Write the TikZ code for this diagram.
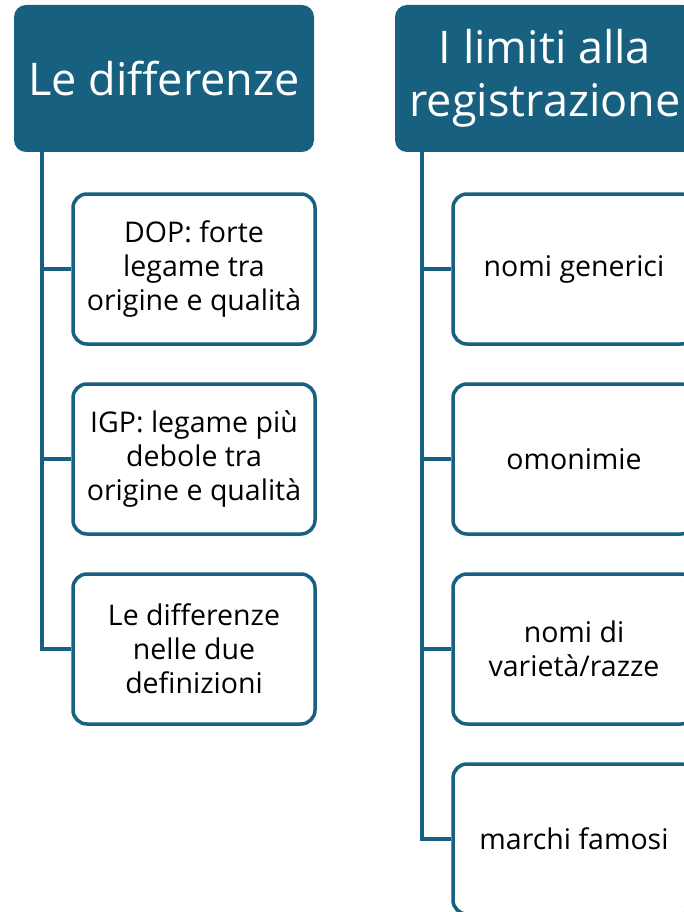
\documentclass[tikz,border=0pt]{standalone}
\usepackage{fontspec}
\setmainfont{Open Sans}
\definecolor{teal}{RGB}{24,96,128}
\tikzset{
  header/.style={draw=none, fill=teal, rounded corners=12pt, minimum width=300pt, minimum height=147pt,
    text=white, align=center, font=\fontsize{45}{53}\selectfont, inner sep=0pt},
  leaf/.style={draw=teal, line width=3.5pt, fill=white, rounded corners=14pt, minimum width=242pt,
    minimum height=150pt, align=center, font=\fontsize{28.5}{34}\selectfont, inner sep=0pt},
  link/.style={draw=teal, line width=3.5pt}
}
\begin{document}
\begin{tikzpicture}[x=1pt,y=-1pt]
\useasboundingbox (0,0) rectangle (684,912);
\clip (0,0) rectangle (684,912);
% left column
\node[header] (h1) at (164,78.5) {Le differenze};
\node[leaf] (a1) at (194,269) {DOP: forte\\legame tra\\origine e qualità};
\node[leaf] (a2) at (194,459) {IGP: legame più\\debole tra\\origine e qualità};
\node[leaf] (a3) at (194,649) {Le differenze\\nelle due\\definizioni};
\coordinate (t1) at (42,152);
\draw[link] (t1) |- (a1.west);
\draw[link] (t1) |- (a2.west);
\draw[link] (t1) |- (a3.west);
% right column
\node[header] (h2) at (545,78.5) {I limiti alla\\registrazione};
\node[leaf] (b1) at (574,269) {nomi generici};
\node[leaf] (b2) at (574,459) {omonimie};
\node[leaf] (b3) at (574,649) {nomi di\\varietà/razze};
\node[leaf] (b4) at (574,839) {marchi famosi};
\coordinate (t2) at (422,152);
\draw[link] (t2) |- (b1.west);
\draw[link] (t2) |- (b2.west);
\draw[link] (t2) |- (b3.west);
\draw[link] (t2) |- (b4.west);
\end{tikzpicture}
\end{document}
